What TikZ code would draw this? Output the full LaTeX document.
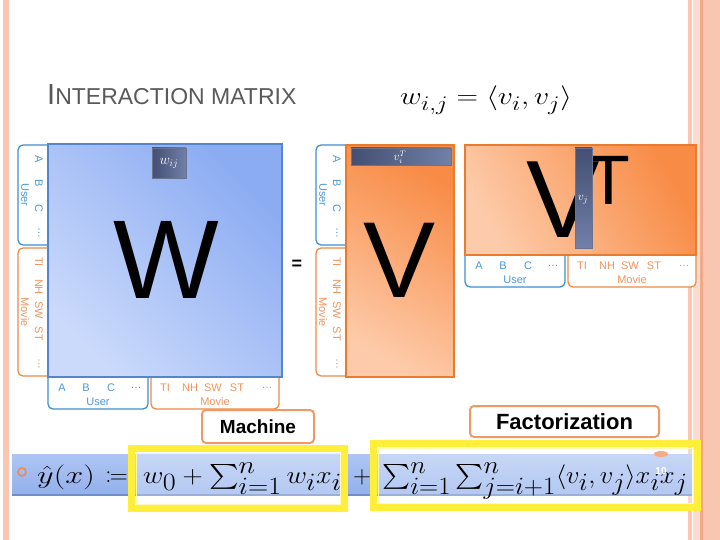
\documentclass[tikz,border=0pt]{standalone}
\usepackage{fontspec}
\usepackage{mathtools}
\newfontfamily\sansf{Liberation Sans}
\definecolor{pinkb}{HTML}{F9C6B2}
\definecolor{pinkd}{HTML}{F2A88A}
\definecolor{pinkl}{HTML}{FCDCCF}
\definecolor{wtop}{HTML}{8BABF2}
\definecolor{wbot}{HTML}{CBDAFB}
\definecolor{wbord}{HTML}{5585CC}
\definecolor{otop}{HTML}{F88B45}
\definecolor{obot}{HTML}{FDCBAA}
\definecolor{obord}{HTML}{EA7A2C}
\definecolor{lblue}{HTML}{3D8FD0}
\definecolor{lorange}{HTML}{EE8A45}
\definecolor{tblue}{HTML}{4C9AD6}
\definecolor{torange}{HTML}{F0945E}
\definecolor{dark1}{HTML}{434F72}
\definecolor{dark2}{HTML}{7180A8}
\definecolor{titlegray}{HTML}{595959}
\definecolor{boxor}{HTML}{EE9A66}
\definecolor{ylw}{HTML}{FFEF3A}
\definecolor{ylwl}{HTML}{FFF8B8}
\definecolor{bartop}{HTML}{AFC6F4}
\definecolor{barbot}{HTML}{93B0EC}
\definecolor{barline}{HTML}{6F8FC8}
\definecolor{bullet}{HTML}{EE8A50}
\tikzset{
  lbox/.style={rounded corners=5, line width=1.3pt, fill=white},
  ltxt/.style={font=\sansf\fontsize{11}{11}\selectfont, inner sep=0pt},
  darkbar/.style={left color=dark1, right color=dark2, draw=dark1!80, line width=0.5pt},
  bigletter/.style={font=\sansf\fontsize{112}{112}\selectfont, inner sep=0pt, anchor=base},
  tagbox/.style={draw=boxor, line width=2pt, rounded corners=4, fill=white},
  yframe/.style={draw=ylw, line width=7pt},
  mathf/.style={font=\fontsize{33}{35}\selectfont, inner sep=0pt, anchor=base west}
}
\newcommand\labpair{%
  \draw[lbox, draw=lblue] (0,-6) rectangle (100,32);
  \draw[lbox, draw=lorange] (103,-6) rectangle (231,32);
  \foreach \t/\x in {A/14,B/38,C/63,{\ldots}/88}
    \node[ltxt, text=tblue] at (\x,11) {\t};
  \node[ltxt, text=tblue] at (50,25) {User};
  \foreach \t/\x in {TI/117,NH/142,SW/165,ST/189,{\ldots}/219}
    \node[ltxt, text=torange] at (\x,11) {\t};
  \node[ltxt, text=torange] at (167,25) {Movie};
}
\begin{document}
\begin{tikzpicture}[x=1pt,y=-1pt]
\useasboundingbox (0,0) rectangle (720,540);
% slide borders
\fill[pinkb] (3,0) rectangle (9,540);
\fill[pinkb] (688,0) rectangle (692,540);
\fill[pinkl] (693,0) rectangle (700,540);
\fill[pinkd] (700,0) rectangle (703,540);
\fill[pinkb] (703,0) rectangle (720,540);
% title
\node[anchor=base west, inner sep=0pt, text=titlegray] (title) at (47,105)
  {\sansf\fontsize{29}{29}\selectfont I\fontsize{23}{23}\selectfont NTERACTION MATRIX};
\node[anchor=base west, inner sep=0pt, font=\fontsize{28}{30}\selectfont] (wdef) at (400,105)
  {\scalebox{1.2}[1]{$w_{i,j} = \langle v_i, v_j\rangle$}};
% label boxes
\begin{scope}[shift={(50,145)}, rotate=-90, transform shape] \labpair \end{scope}
\begin{scope}[shift={(48,377)}] \labpair \end{scope}
\begin{scope}[shift={(348,145)}, rotate=-90, transform shape] \labpair \end{scope}
\begin{scope}[shift={(465,255)}] \labpair \end{scope}
% W matrix
\path[draw=wbord, line width=1.5pt, top color=wtop, bottom color=wbot, shading angle=-45]
  (48,144) rectangle (282,377);
\node[bigletter] (W) at (166,298) {W};
\path[darkbar] (152,148) rectangle (186,178);
\node[text=white, font=\fontsize{14}{14}\selectfont, inner sep=0pt] (wij) at (169,163) {$w_{ij}$};
% equals
\node[font=\sansf\bfseries\fontsize{18}{18}\selectfont, inner sep=0pt] (eq) at (297,265) {=};
% V matrix
\path[draw=obord, line width=2pt, top color=otop, bottom color=obot, shading angle=-30]
  (346,145) rectangle (454,377);
\node[bigletter, font=\sansf\fontsize{108}{108}\selectfont] (V) at (400,297) {V};
\path[darkbar] (351,148) rectangle (451,165);
\node[text=white, font=\fontsize{12}{12}\selectfont, inner sep=0pt] (viT) at (400,157.5) {$v_i^T$};
% V^T matrix
\path[draw=obord, line width=2pt, top color=otop, bottom color=obot, shading angle=-60]
  (465,145) rectangle (696,255);
\node[bigletter, font=\sansf\fontsize{110}{110}\selectfont] (VT) at (563,237) {V};
\node[bigletter, font=\sansf\fontsize{70}{70}\selectfont] (T) at (609,205) {T};
\path[darkbar, top color=dark1, bottom color=dark2] (575,148) rectangle (592,248);
\node[text=white, font=\fontsize{13}{13}\selectfont, inner sep=0pt] (vj) at (583,200) {$v_j$};
% tags
\node[tagbox, minimum width=112pt, minimum height=33pt, inner sep=0pt,
  font=\sansf\bfseries\fontsize{19}{19}\selectfont] (mach) at (258,426.5) {Machine};
\node[tagbox, minimum width=189pt, minimum height=31pt, inner sep=0pt,
  font=\sansf\bfseries\fontsize{22}{22}\selectfont] (fact) at (564.5,421.5) {Factorization};
% formula bar
\path[top color=bartop, bottom color=barbot] (12,454) rectangle (692,495);
\draw[barline, line width=1.2pt] (12,495) -- (692,495);
\fill[bullet] (661,454) ellipse (7 and 3);
\draw[bullet, line width=1.6pt] (22,472) circle (4);
\fill[white, opacity=0.3] (128,445) rectangle (348,512);
\fill[white, opacity=0.3] (370,440) rectangle (701,511);
\node[mathf] (f1a) at (37,483) {\scalebox{1.3}[1]{$\hat{y}(x)$}};
\node[mathf, anchor=base east] (f1b) at (128,483) {$\coloneqq$};
\node[mathf] (f2) at (143,483) {\scalebox{1.13}[1]{$w_0 + \sum_{i=1}^{n} w_i x_i$}};
\node[mathf] (f3) at (353,483) {$+$};
\node[mathf] (f4) at (382,483) {\scalebox{1.07}[1]{$\sum_{i=1}^{n}\sum_{j=i+1}^{n}\langle v_i, v_j\rangle x_i x_j$}};
\node[text=white, font=\sansf\bfseries\fontsize{10}{10}\selectfont, inner sep=0pt] (pg) at (661,471) {10};
\draw[yframe] (131.5,448.5) rectangle (344.5,508.5);
\draw[ylwl, line width=1pt] (136,453) rectangle (340,504);
\draw[yframe] (373.5,443.5) rectangle (697.5,507.5);
\draw[ylwl, line width=1pt] (378,448) rectangle (693,503);
\end{tikzpicture}
\end{document}
